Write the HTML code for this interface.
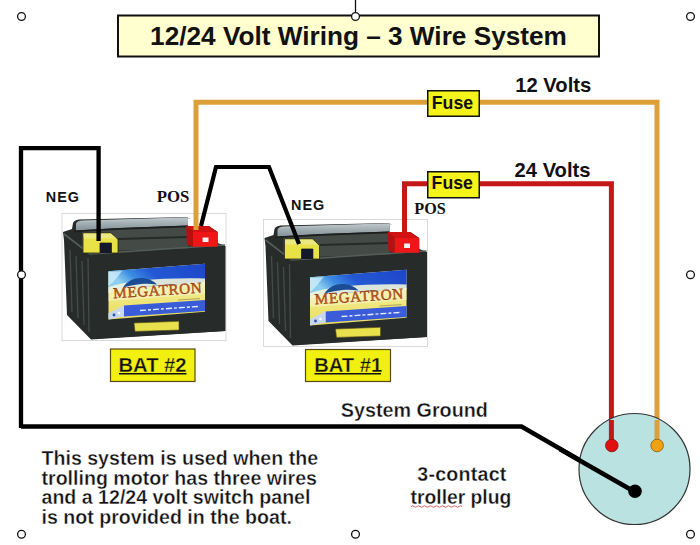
<!DOCTYPE html>
<html><head><meta charset="utf-8">
<style>
html,body{margin:0;padding:0;background:#fff;}
body{width:700px;height:545px;overflow:hidden;position:relative;}
svg{position:absolute;left:0;top:0;}
text{font-family:"Liberation Sans",sans-serif;font-weight:bold;fill:#111;}
</style></head><body>
<svg width="700" height="545" viewBox="0 0 700 545">
<defs>
  <linearGradient id="sky" x1="0" y1="0.3" x2="1" y2="0">
    <stop offset="0" stop-color="#8ccfee"/>
    <stop offset="0.18" stop-color="#3c8ce2"/>
    <stop offset="0.4" stop-color="#2458d4"/>
    <stop offset="1" stop-color="#1c46c8"/>
  </linearGradient>
  <linearGradient id="sand" x1="0" y1="0" x2="0" y2="1">
    <stop offset="0" stop-color="#f6f4c0"/>
    <stop offset="0.6" stop-color="#f0e880"/>
    <stop offset="1" stop-color="#e8dc60"/>
  </linearGradient>
  <linearGradient id="lid" x1="0" y1="0" x2="0" y2="1">
    <stop offset="0" stop-color="#c2cacf"/>
    <stop offset="0.5" stop-color="#a0acb0"/>
    <stop offset="1" stop-color="#84929a"/>
  </linearGradient>
  <g id="bat">
    <!-- image frame -->
    <rect x="62" y="213.5" width="164" height="127" fill="#fff" stroke="#d9d9d9" stroke-width="1"/>
    <!-- whole dark silhouette -->
    <path d="M63,232 L72,229 L73,223 Q74,220 79,219.5 L188,217 L188,226 L209,226 L217.7,232 L217.7,243 L225.5,246 L225.5,331 L91,339.5 L67,315 L64,240 Z" fill="#272b29"/>
    <!-- lid top surface -->
    <path d="M76,229.5 L76,223.5 Q77.5,220.7 82,220.5 L188,217.2 L188,225.5 L120,228 L76,230.5 Z" fill="url(#lid)"/>
    <path d="M80,221.5 L190,218.5" stroke="#b8c4c8" stroke-width="1.2" opacity="0.8"/>
    <!-- lid front band -->
    <path d="M82,231 L120,228.5 L188,226 L188,250 L90,254 L82,249 Z" fill="#444b47"/>
    <path d="M74,231.3 L120,228.8 L188,226.3" stroke="#1c1f1e" stroke-width="1.8" fill="none"/>
    <path d="M118,239 L188,237 M90,252.5 L188,249.5" stroke="#262a28" stroke-width="1.8" fill="none"/>
    <!-- top ledge highlight -->
    <polyline points="64,234 90,254 225,245" fill="none" stroke="#555d5a" stroke-width="1.6"/>
    <!-- left side panel ribs -->
    <path d="M70,250 L72,312 M76,256 L78,318 M82,261 L84,325 M88,258 L89,332" stroke="#434a47" stroke-width="1.4" fill="none"/>
    <!-- front face -->
    <path d="M91,256 L225,246.5 L225,331 L91,339 Z" fill="#272c2a"/>
    <!-- label -->
    <polygon points="108.5,271.2 205,263.7 205,311.7 108.5,319.4" fill="url(#sand)"/>
    <polygon points="108.5,271.2 205,263.7 205,282 108.5,290" fill="url(#sky)"/>
    <path d="M108.5,272 L122,271 C118,276 114,282 108.5,286 Z" fill="#d8f2fa" opacity="0.7"/>
    <path d="M108.5,287 C128,281 160,277.5 205,278.5 L205,283.5 C170,283.5 140,286.5 108.5,293 Z" fill="#eef4dc" opacity="0.9"/>
    <path d="M123,287.5 C127,281 134,278 141,278 C148,278 153,280.5 157,284.5 C151,283.5 146,283.5 141,284 C134,284.8 128,286.3 123,287.5 Z" fill="#1c4c94"/>
    <polygon points="108.5,290 205,282 205,294 108.5,301" fill="#f8f4c8" opacity="0.6"/>
    <polygon points="124,305.5 205,300 205,311 124,316.5" fill="#3a5cd8"/>
    <polygon points="108.5,313 124,305.5 124,316.5 108.5,319.4" fill="#c8d8ec"/>
    <circle cx="114" cy="315" r="1.4" fill="#2a50c0"/><circle cx="119" cy="313" r="1.2" fill="#fff"/>
    <text x="113.6" y="298.2" transform="rotate(-3.6 113.6 298.2)" style="font-family:'Liberation Serif',serif;font-weight:normal;font-size:15.2px;letter-spacing:0.6px;fill:#c8581e;stroke:#8a3a12;stroke-width:0.4">MEGATRON</text>
    <path d="M178,300 L200,298.6" stroke="#8a7a40" stroke-width="1" opacity="0.6"/>
    <path d="M140,310.5 L200,306.3" stroke="#e6ecff" stroke-width="1.4" stroke-dasharray="6 2 3 2"/>
    <!-- handle -->
    <polygon points="134,323 179,321.3 179,330 135,331.4" fill="#e8e04c" stroke="#55501a" stroke-width="0.6"/>
    <!-- yellow NEG terminal -->
    <path d="M83,233 L111,233 L118,239.5 L118,253 L111.4,253 L111.4,243 L100,243 L100,253 L83,253 Z" fill="#e8e246" stroke="#2a2a10" stroke-width="0.8"/>
    <path d="M83.5,233.5 L110.8,233.5 L116.5,238.5 L84,238.5 Z" fill="#ece880"/>
    <rect x="100" y="243" width="11.4" height="10" fill="#15182a"/>
    <!-- red POS terminal -->
    <path d="M186,226 L193,232 L193,246.7 L187,245 Z" fill="#b81010"/>
    <path d="M186,226 L208.5,226 L217.7,232 L193,232 Z" fill="#d01212"/>
    <rect x="193" y="232" width="24.7" height="14.7" fill="#ee1616"/>
    <rect x="202.6" y="237.5" width="5.9" height="4.5" fill="#f2f2f2"/>
  </g>
</defs>

<!-- title box -->
<rect x="118" y="15.5" width="481" height="41" fill="#ffffcf" stroke="#111" stroke-width="2"/>
<text x="150.1" y="45.4" style="font-size:26.2px">12/24 Volt Wiring – 3 Wire System</text>

<!-- batteries -->
<use href="#bat"/>
<use href="#bat" transform="translate(201.5,6)"/>

<!-- wires -->
<polyline points="21,428 21,148.2 98.6,148.2 98.6,241" fill="none" stroke="#000" stroke-width="4.3"/>
<polyline points="21,426.5 521.5,426.5 635,492" fill="none" stroke="#000" stroke-width="4.6"/>
<polyline points="201,226 216,167 269,167 299,244" fill="none" stroke="#000" stroke-width="4.2"/>
<polyline points="196,230 196,102.3 657,102.3 657,445" fill="none" stroke="#dda038" stroke-width="5"/>
<polyline points="404.5,232 404.5,183.8 611.4,183.8 611.4,445" fill="none" stroke="#c41818" stroke-width="5"/>

<!-- fuses -->
<rect x="427.75" y="90.75" width="51.5" height="25.5" fill="#f4f31a" stroke="#111" stroke-width="1.5"/>
<text x="431.8" y="108.7" style="font-size:17.7px">Fuse</text>
<rect x="427.75" y="171.75" width="51.5" height="26" fill="#f4f31a" stroke="#111" stroke-width="1.5"/>
<text x="431.6" y="189" style="font-size:17.7px">Fuse</text>

<text x="515.3" y="92.3" style="font-size:20.2px">12 Volts</text>
<text x="514.6" y="177.2" style="font-size:20.2px">24 Volts</text>

<text x="45.8" y="202.4" style="font-size:14.4px;letter-spacing:1px">NEG</text>
<text x="156.8" y="202.4" style="font-family:'Liberation Serif',serif;font-size:16.8px">POS</text>
<text x="291" y="210.4" style="font-size:14.4px;letter-spacing:1px">NEG</text>
<text x="414.3" y="214.4" style="font-family:'Liberation Serif',serif;font-size:16.2px">POS</text>

<!-- BAT labels -->
<rect x="110.5" y="349" width="84.5" height="32.5" fill="#f2f010" stroke="#5a4a10" stroke-width="1.2"/>
<text x="118.5" y="371.7" style="font-size:20.2px;stroke:#f2f010;stroke-width:0.3px">BAT #2</text>
<line x1="119" y1="373.8" x2="186.5" y2="373.8" stroke="#111" stroke-width="1.4"/>
<rect x="305.5" y="349.5" width="85" height="32" fill="#f2f010" stroke="#5a4a10" stroke-width="1.2"/>
<text x="314.2" y="371.7" style="font-size:20.2px;stroke:#f2f010;stroke-width:0.3px">BAT #1</text>
<line x1="314.5" y1="373.8" x2="381" y2="373.8" stroke="#111" stroke-width="1.4"/>

<text x="340.8" y="416.7" style="font-size:19.75px;stroke:#fff;stroke-width:0.35px">System Ground</text>

<!-- plug -->
<circle cx="634.5" cy="469" r="55.5" fill="#bae2e0" stroke="#333" stroke-width="1.2"/>
<polyline points="611.4,420 611.4,445" fill="none" stroke="#c41818" stroke-width="5"/>
<polyline points="657,420 657,445" fill="none" stroke="#dda038" stroke-width="5"/>
<polyline points="560,449.2 635,492" fill="none" stroke="#000" stroke-width="4.6"/>
<circle cx="611.8" cy="445.5" r="6.3" fill="#e01010" stroke="#8a1010" stroke-width="0.8"/>
<circle cx="657.1" cy="445.5" r="6.3" fill="#f2a010" stroke="#8a5a10" stroke-width="0.8"/>
<circle cx="635" cy="491.2" r="6.8" fill="#000"/>

<text x="417.3" y="481.3" style="font-size:19.6px;letter-spacing:0.25px;stroke:#fff;stroke-width:0.3px">3-contact</text>
<text x="410.6" y="503.7" style="font-size:19.3px;stroke:#fff;stroke-width:0.3px">troller plug</text>
<path d="M411,506.5 q1.5,-1.5 3,0 t3,0 t3,0 t3,0 t3,0 t3,0 t3,0 t3,0 t3,0 t3,0 t3,0 t3,0 t3,0 t3,0 t3,0 t3,0 t3,0" fill="none" stroke="#d04040" stroke-width="0.8"/>

<text style="font-size:19.6px;stroke:#fff;stroke-width:0.35px">
  <tspan x="41.5" y="465.3">This system is used when the</tspan>
  <tspan x="41.5" y="484.8">trolling motor has three wires</tspan>
  <tspan x="41.5" y="504.3">and a 12/24 volt switch panel</tspan>
  <tspan x="41.5" y="523.8">is not provided in the boat.</tspan>
</text>

<!-- selection handles -->
<line x1="355.5" y1="0" x2="355.5" y2="12.5" stroke="#111" stroke-width="1.3"/>
<g fill="#fff" stroke="#111" stroke-width="1.3">
  <circle cx="21.5" cy="16.5" r="3.9"/>
  <circle cx="355.5" cy="16.5" r="3.9"/>
  <circle cx="690.5" cy="16.5" r="3.9"/>
  <circle cx="21.5" cy="274.8" r="3.9"/>
  <circle cx="690.5" cy="274.8" r="3.9"/>
  <circle cx="21.5" cy="534.2" r="3.9"/>
  <circle cx="355.5" cy="534.2" r="3.9"/>
  <circle cx="690.5" cy="534.2" r="3.9"/>
</g>
</svg>
</body></html>
